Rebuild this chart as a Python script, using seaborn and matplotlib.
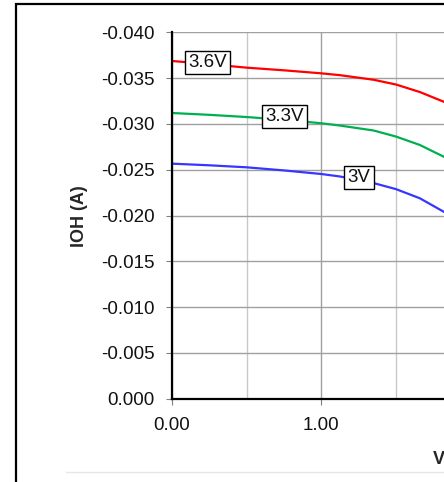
import numpy as np
import pandas as pd
import seaborn as sns
import matplotlib.pyplot as plt
from matplotlib.patches import Rectangle
from matplotlib.lines import Line2D
from matplotlib.ticker import MultipleLocator, FormatStrFormatter

sns.set_style("white")
plt.rcParams['font.family'] = ['Liberation Sans', 'DejaVu Sans']
plt.rcParams['axes.unicode_minus'] = False

# VOH (V) sample points
voh = [0.0, 0.25, 0.5, 0.75, 1.0, 1.125, 1.35, 1.5, 1.66, 1.82, 1.95]
# IOH (A) for each supply voltage
ioh_36 = [-0.03687, -0.03652, -0.03614, -0.03585, -0.03552, -0.03532,
          -0.03482, -0.03430, -0.03348, -0.03242, -0.03140]
ioh_33 = [-0.03119, -0.03099, -0.03075, -0.03045, -0.03007, -0.02982,
          -0.02928, -0.02862, -0.02770, -0.02642, -0.02520]
ioh_30 = [-0.02566, -0.02548, -0.02526, -0.02492, -0.02453, -0.02426,
          -0.02354, -0.02288, -0.02188, -0.02041, -0.01910]

series = ["3.6V", "3.3V", "3V"]
colors = {"3.6V": "#ff0000", "3.3V": "#00b050", "3V": "#3636ff"}
# label positions (VOH, IOH)
label_x = [0.238, 0.752, 1.252]
label_y = [-0.0367, -0.03082, -0.02415]

x_ticks = [0, 1, 2, 3, 4]
x_ticklabels = ["0.00", "1.00", "", "", ""]

df = pd.DataFrame({
    "VOH": voh * 3,
    "IOH": ioh_36 + ioh_33 + ioh_30,
    "supply": ["3.6V"] * len(voh) + ["3.3V"] * len(voh) + ["3V"] * len(voh),
})

fig = plt.figure(figsize=(4.44, 4.82), dpi=100)
# axes extends past the right edge of the picture (chart is cropped)
ax = fig.add_axes([172 / 444, 83.3 / 482, 597.2 / 444, 366.4 / 482])

sns.lineplot(data=df, x="VOH", y="IOH", hue="supply", palette=colors,
             linewidth=1.6, legend=False, ax=ax, sort=False)

ax.set_xlim(0, 4)
ax.set_ylim(0.0, -0.040)
ax.set_xticks(x_ticks)
ax.set_xticklabels(x_ticklabels)
ax.xaxis.set_minor_locator(MultipleLocator(0.5))
ax.yaxis.set_major_locator(MultipleLocator(0.005))
ax.yaxis.set_major_formatter(FormatStrFormatter('%.3f'))

ax.grid(which='major', axis='both', color='#a0a0a0', linewidth=1.0)
ax.grid(which='minor', axis='x', color='#c8c8c8', linewidth=1.0)
ax.set_axisbelow(True)

for s in ['top', 'right']:
    ax.spines[s].set_visible(False)
for s in ['left', 'bottom']:
    ax.spines[s].set_color('black')
    ax.spines[s].set_linewidth(1.6)

ax.tick_params(axis='y', which='major', left=True, length=4.5, width=0.8,
               color='#808080', pad=8, labelsize=13.5, labelcolor='#111111')
ax.tick_params(axis='x', which='major', bottom=True, length=4, width=0.8,
               color='#808080', pad=9, labelsize=13.5, labelcolor='#111111')
ax.tick_params(axis='x', which='minor', bottom=False)

ax.set_xlabel("")
ax.set_ylabel("")

for name, lx, ly in zip(series, label_x, label_y):
    ax.text(lx, ly, name, fontsize=13.5, ha='center', va='center', color='#111111',
            bbox=dict(boxstyle='square,pad=0.18', facecolor='white',
                      edgecolor='black', linewidth=1.0), zorder=5)

fig.text(80 / 444, 1 - 216 / 482, "IOH (A)", rotation=90, fontsize=13,
         fontweight='bold', ha='center', va='center')
# x label is cut by the right edge, as in the cropped original
fig.text(433 / 444, 1 - 460 / 482, "VOH (V)", fontsize=13, fontweight='bold',
         ha='left', va='center')

# outer chart frame and faint plot-area line
fig.add_artist(Rectangle((16 / 444, -0.1), 1.2, 1.1 - 4 / 482, transform=fig.transFigure,
                         fill=False, edgecolor='black', linewidth=1.6))
fig.add_artist(Line2D([66 / 444, 1.0], [1 - 472 / 482, 1 - 472 / 482],
                      transform=fig.transFigure, color='#e6e6e6', linewidth=1.0))

fig.savefig("out.png", dpi=100)
